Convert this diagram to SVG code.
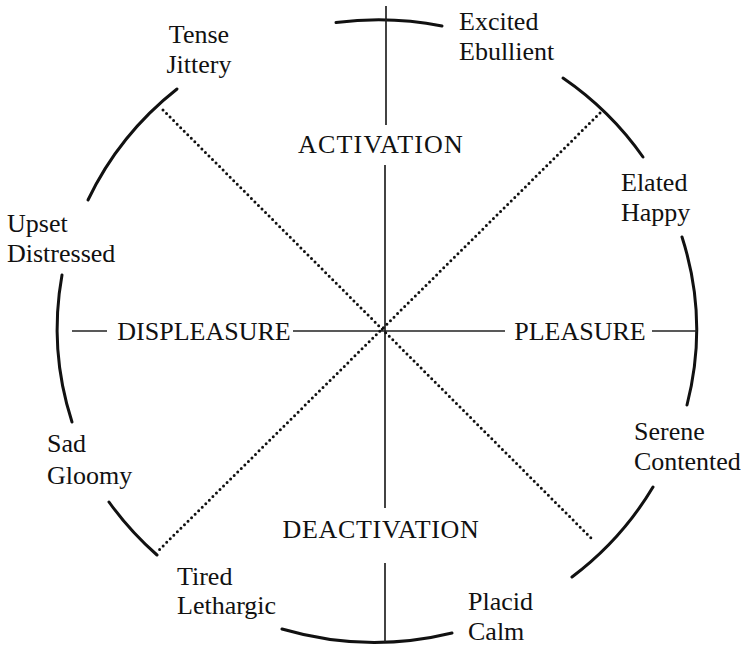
<svg xmlns="http://www.w3.org/2000/svg" width="741" height="647" viewBox="0 0 741 647">
  <style>
    .rim { fill: none; stroke: #111; stroke-width: 3; stroke-linecap: round; }
    .axis { fill: none; stroke: #222; stroke-width: 1.7; }
    .diag { fill: none; stroke: #111; stroke-width: 3; stroke-linecap: round; stroke-dasharray: 0 5; }
    text { font-family: "Liberation Serif", "Times New Roman", serif; font-size: 26px; fill: #111; }
    .axislabel { font-size: 26px; }
    .wide { letter-spacing: 1.2px; }
    .wider { letter-spacing: 0.7px; }
  </style>

  <rect width="741" height="647" fill="#fff"/>

  <!-- outer ring, drawn as broken elliptical arcs -->
  <g id="ring">
    <path class="rim" d="M336,22.6 A320,311 0 0 1 442,26"/>
    <path class="rim" d="M563,78 A320,311 0 0 1 643,157"/>
    <path class="rim" d="M682,237 A320,311 0 0 1 687,405"/>
    <path class="rim" d="M653,487 A320,311 0 0 1 572,577"/>
    <path class="rim" d="M452,633 A320,311 0 0 1 282,629"/>
    <path class="rim" d="M157,555 A320,311 0 0 1 109,502"/>
    <path class="rim" d="M72,422 A320,311 0 0 1 62,275"/>
    <path class="rim" d="M88,200 A320,311 0 0 1 177,89"/>
  </g>

  <g id="connectors">
    <!-- activation / deactivation axis -->
    <line class="axis" x1="386" y1="6" x2="386" y2="125"/>
    <line class="axis" x1="385" y1="165" x2="385" y2="508"/>
    <line class="axis" x1="385" y1="563" x2="385" y2="642"/>
    <!-- pleasure / displeasure axis -->
    <line class="axis" x1="72" y1="331" x2="107" y2="331"/>
    <line class="axis" x1="293" y1="331" x2="505" y2="331"/>
    <line class="axis" x1="652" y1="331" x2="697" y2="331"/>
    <!-- diagonal dotted axes -->
    <line class="diag" x1="163" y1="110" x2="593" y2="540"/>
    <line class="diag" x1="600" y1="113" x2="158" y2="551"/>
  </g>

  <g id="activation"><text class="axislabel wide" x="381" y="153" text-anchor="middle">ACTIVATION</text></g>
  <g id="deactivation"><text class="axislabel wider" x="381" y="538" text-anchor="middle">DEACTIVATION</text></g>
  <g id="displeasure"><text class="axislabel" x="204" y="340" text-anchor="middle">DISPLEASURE</text></g>
  <g id="pleasure"><text class="axislabel" x="580" y="340" text-anchor="middle">PLEASURE</text></g>

  <g id="tense-jittery">
    <text x="199" y="43" text-anchor="middle">Tense</text>
    <text x="199" y="73" text-anchor="middle">Jittery</text>
  </g>
  <g id="excited-ebullient">
    <text x="459" y="30">Excited</text>
    <text x="459" y="60">Ebullient</text>
  </g>
  <g id="elated-happy">
    <text x="621" y="191">Elated</text>
    <text x="621" y="221">Happy</text>
  </g>
  <g id="upset-distressed">
    <text x="7" y="232">Upset</text>
    <text x="7" y="262">Distressed</text>
  </g>
  <g id="serene-contented">
    <text x="634" y="440">Serene</text>
    <text x="634" y="470">Contented</text>
  </g>
  <g id="sad-gloomy">
    <text x="47" y="452">Sad</text>
    <text x="47" y="484">Gloomy</text>
  </g>
  <g id="tired-lethargic">
    <text x="177" y="585">Tired</text>
    <text x="177" y="614">Lethargic</text>
  </g>
  <g id="placid-calm">
    <text x="468" y="610">Placid</text>
    <text x="468" y="640">Calm</text>
  </g>
</svg>
